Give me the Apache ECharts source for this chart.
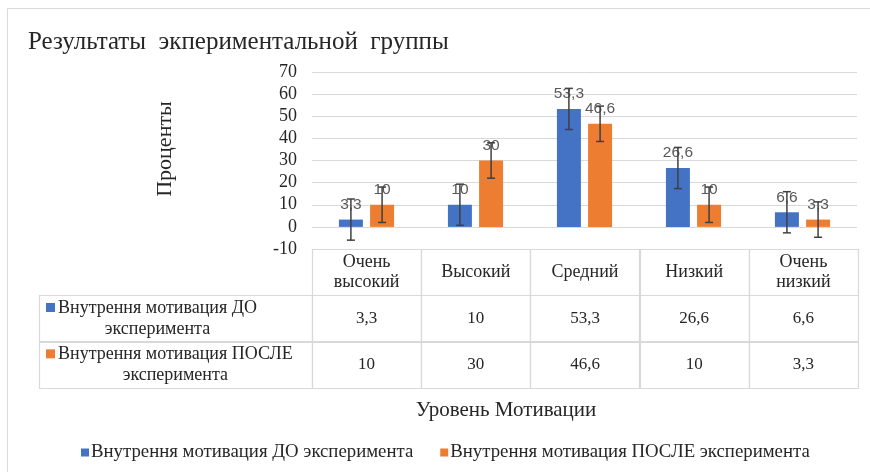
<!DOCTYPE html>
<html>
<head>
<meta charset="utf-8">
<script src="https://cdn.jsdelivr.net/npm/echarts@6/dist/echarts.min.js"></script>
<style>
html,body{margin:0;padding:0;background:#fff;}
#c{width:870px;height:472px;}
</style>
</head>
<body>
<div id="c"></div>
<script>
// ---- data ----
const categories = ['Очень высокий', 'Высокий', 'Средний', 'Низкий', 'Очень низкий'];
const categoryHeaders = ['Очень\nвысокий', 'Высокий', 'Средний', 'Низкий', 'Очень\nнизкий'];
const seriesNames = ['Внутрення мотивация ДО эксперимента', 'Внутрення мотивация ПОСЛЕ эксперимента'];
const seriesTableNames = [['Внутрення мотивация ДО', 'эксперимента'], ['Внутрення мотивация ПОСЛЕ', 'эксперимента']];
const valuesDo = [3.3, 10, 53.3, 26.6, 6.6];
const valuesPosle = [10, 30, 46.6, 10, 3.3];
const errDo = [9.3, 9.3, 9.3, 9.3, 9.3];
const errPosle = [8.0, 8.0, 8.0, 8.0, 8.0];
const yMin = -10, yMax = 70, yStep = 10;
const titleText = 'Результаты  экпериментальной  группы';
const yTitle = 'Проценты';
const xTitle = 'Уровень Мотивации';

const colors = ['#4472C4', '#ED7D31'];
const serif = '"Liberation Serif", "Times New Roman", serif';
const sans = '"Liberation Sans", Arial, sans-serif';
const fmt = v => String(v).replace('.', ',');

const BAR_W = 0.22, BAR_GAP = 0.3;
const seriesValues = [valuesDo, valuesPosle];
const seriesErr = [errDo, errPosle];

// error bar data
const errData = [];
seriesValues.forEach((vals, s) => vals.forEach((v, i) => errData.push([i, v, seriesErr[s][i], s])));

// table cells
const tableCells = [];
categoryHeaders.forEach((h, i) => tableCells.push({col: i, row: 0, text: h, kind: 'head'}));
seriesValues.forEach((vals, s) => vals.forEach((v, i) => tableCells.push({col: i, row: s + 1, text: fmt(v), kind: 'val'})));
seriesTableNames.forEach((n, s) => tableCells.push({col: 0, row: s + 1, text: n, kind: 'label', s: s}));

const LABEL_COL_W = 273;
const txtColor = '#262626';
const borderColor = '#d9d9d9';
const labelFont = '18px ' + serif;
const measureCtx = document.createElement('canvas').getContext('2d');
function textWidth(t, font) { measureCtx.font = font; return measureCtx.measureText(t).width; }

const chart = echarts.init(document.getElementById('c'), null, {renderer: 'canvas'});
chart.setOption({
  animation: false,
  backgroundColor: '#fff',
  color: colors,
  graphic: [
    {type: 'rect', shape: {x: 7.5, y: 8.5, width: 900, height: 500}, style: {fill: 'none', stroke: borderColor, lineWidth: 1}, silent: true, z: -10},
    {type: 'text', left: 28, top: 30, style: {text: titleText, font: '25px ' + serif, fill: txtColor}},
    {type: 'text', x: 165, y: 149, rotation: Math.PI / 2, style: {text: yTitle, font: '22px ' + serif, fill: txtColor, align: 'center', verticalAlign: 'middle'}},
    {type: 'text', x: 506, y: 410, style: {text: xTitle, font: '21px ' + serif, fill: txtColor, align: 'center', verticalAlign: 'middle'}}
  ],
  legend: {
    bottom: 5,
    left: 76,
    icon: 'rect',
    itemWidth: 8,
    itemHeight: 8,
    itemGap: 27,
    textStyle: {fontFamily: serif, fontSize: 18.8, color: txtColor, padding: [0, 0, 0, -3]},
    data: seriesNames
  },
  grid: [
    {left: 312, right: 13, top: 72, bottom: 223, containLabel: false},
    {left: 312, right: 12, top: 249, height: 139, containLabel: false}
  ],
  xAxis: [
    {type: 'category', gridIndex: 0, data: categories, axisLine: {show: false}, axisTick: {show: false}, axisLabel: {show: false}},
    {type: 'category', gridIndex: 1, data: categories, show: false}
  ],
  yAxis: [
    {type: 'value', gridIndex: 0, min: yMin, max: yMax, interval: yStep,
     axisLine: {show: false}, axisTick: {show: false},
     axisLabel: {fontFamily: serif, fontSize: 18, color: txtColor, margin: 15},
     splitLine: {lineStyle: {color: borderColor, width: 1}}},
    {type: 'category', gridIndex: 1, data: ['h', 'r1', 'r2'], inverse: true, show: false}
  ],
  series: [
    {name: seriesNames[0], type: 'bar', data: valuesDo, barWidth: (BAR_W * 100) + '%', barGap: (BAR_GAP * 100) + '%',
     itemStyle: {color: colors[0]},
     label: {show: true, position: 'top', distance: 7, fontFamily: sans, fontSize: 15.5, color: '#595959', formatter: p => fmt(p.value)}},
    {name: seriesNames[1], type: 'bar', data: valuesPosle, barWidth: (BAR_W * 100) + '%', barGap: (BAR_GAP * 100) + '%',
     itemStyle: {color: colors[1]},
     label: {show: true, position: 'top', distance: 7, fontFamily: sans, fontSize: 15.5, color: '#595959', formatter: p => fmt(p.value)}},
    {type: 'custom', xAxisIndex: 0, yAxisIndex: 0, data: errData, encode: {x: 0, y: 1}, z: 5, silent: true,
     renderItem: function (params, api) {
       const i = api.value(0), v = api.value(1), e = api.value(2), s = api.value(3);
       const band = api.size([1, 0])[0];
       const off = (s === 0 ? -1 : 1) * band * BAR_W * (1 + BAR_GAP) / 2;
       const cx = api.coord([i, v])[0] + off;
       const yt = api.coord([i, v + e])[1];
       const yb = api.coord([i, v - e])[1];
       const cap = 4;
       const st = {stroke: '#404040', lineWidth: 1.5};
       return {type: 'group', children: [
         {type: 'line', shape: {x1: cx, y1: yt, x2: cx, y2: yb}, style: st},
         {type: 'line', shape: {x1: cx - cap, y1: yt, x2: cx + cap, y2: yt}, style: st},
         {type: 'line', shape: {x1: cx - cap, y1: yb, x2: cx + cap, y2: yb}, style: st}
       ]};
     }},
    {type: 'custom', xAxisIndex: 1, yAxisIndex: 1, data: tableCells.map(c => [c.col, c.row]), encode: {x: 0, y: 1}, silent: true,
     renderItem: function (params, api) {
       const cell = tableCells[params.dataIndex];
       const c = api.coord([api.value(0), api.value(1)]);
       const sz = api.size([1, 1]);
       let x0 = c[0] - sz[0] / 2, w = sz[0];
       const y0 = c[1] - sz[1] / 2, h = sz[1];
       const rect = {type: 'rect', shape: {x: Math.round(x0 - (cell.kind === 'label' ? LABEL_COL_W : 0)) + 0.5, y: Math.round(y0) + 0.5,
         width: Math.round(cell.kind === 'label' ? LABEL_COL_W : w), height: Math.round(h)},
         style: {fill: 'none', stroke: borderColor, lineWidth: 1.2}};
       if (cell.kind === 'label') {
         const left = x0 - LABEL_COL_W;
         const tx = left + 19;
         const w1 = textWidth(cell.text[0], labelFont);
         const lh = 21;
         const yc = y0 + h / 2;
         return {type: 'group', children: [
           rect,
           {type: 'rect', shape: {x: left + 7, y: yc - lh / 2 - 5, width: 9, height: 9}, style: {fill: colors[cell.s]}},
           {type: 'text', style: {text: cell.text[0], x: tx, y: yc - lh / 2, align: 'left', verticalAlign: 'middle', font: labelFont, fill: txtColor}},
           {type: 'text', style: {text: cell.text[1], x: tx + w1 / 2, y: yc + lh / 2, align: 'center', verticalAlign: 'middle', font: labelFont, fill: txtColor}}
         ]};
       }
       return {type: 'group', children: [
         rect,
         {type: 'text', style: {text: cell.text, x: x0 + w / 2, y: y0 + h / 2, align: 'center', verticalAlign: 'middle',
           font: (cell.kind === 'head' ? '18px ' : '17px ') + serif, fill: txtColor, lineHeight: 20}}
       ]};
     }}
  ]
});
</script>
</body>
</html>
